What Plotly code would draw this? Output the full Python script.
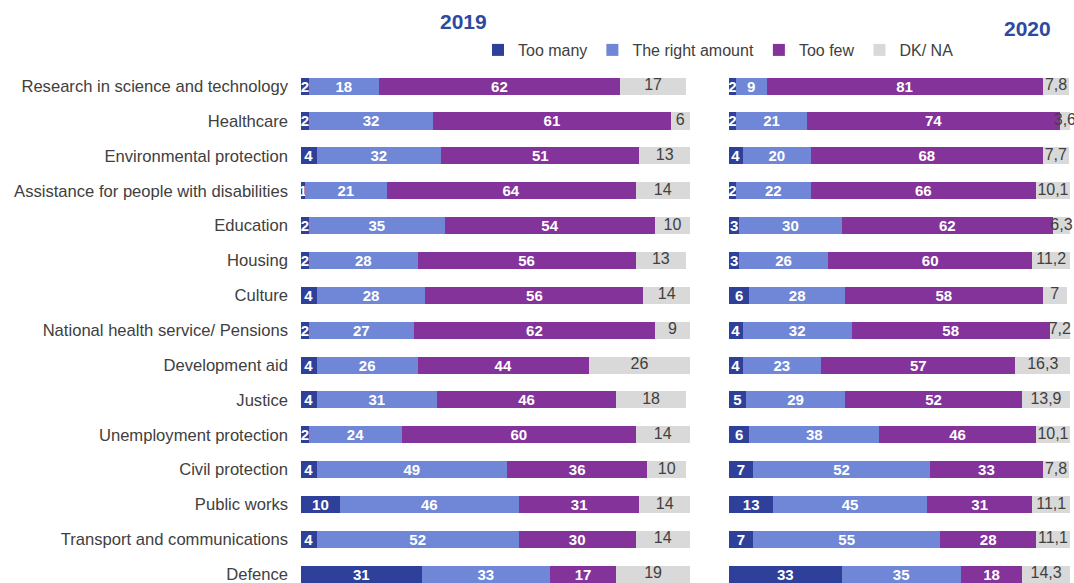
import plotly.graph_objects as go

categories = [
    "Research in science and technology", "Healthcare", "Environmental protection",
    "Assistance for people with disabilities", "Education", "Housing", "Culture",
    "National health service/ Pensions", "Development aid", "Justice",
    "Unemployment protection", "Civil protection", "Public works",
    "Transport and communications", "Defence",
]
series_names = ["Too many", "The right amount", "Too few", "DK/ NA"]

too_many_2019 = [2, 2, 4, 1, 2, 2, 4, 2, 4, 4, 2, 4, 10, 4, 31]
right_2019 = [18, 32, 32, 21, 35, 28, 28, 27, 26, 31, 24, 49, 46, 52, 33]
too_few_2019 = [62, 61, 51, 64, 54, 56, 56, 62, 44, 46, 60, 36, 31, 30, 17]
dkna_2019 = [17, 6, 13, 14, 10, 13, 14, 9, 26, 18, 14, 10, 14, 14, 19]

too_many_2020 = [2, 2, 4, 2, 3, 3, 6, 4, 4, 5, 6, 7, 13, 7, 33]
right_2020 = [9, 21, 20, 22, 30, 26, 28, 32, 23, 29, 38, 52, 45, 55, 35]
too_few_2020 = [81, 74, 68, 66, 62, 60, 58, 58, 57, 52, 46, 33, 31, 28, 18]
dkna_2020 = [7.8, 3.6, 7.7, 10.1, 6.3, 11.2, 7, 7.2, 16.3, 13.9, 10.1, 7.8, 11.1, 11.1, 14.3]

colors = ["#2F409B", "#6F87D6", "#833399", "#D9D9D9"]
FONT = "Liberation Sans, Arial, sans-serif"
AXIS_MAX = 100


def fmt(v):
    return ("%g" % v).replace(".", ",")


fig = go.Figure()
data_2019 = [too_many_2019, right_2019, too_few_2019, dkna_2019]
data_2020 = [too_many_2020, right_2020, too_few_2020, dkna_2020]

for data, xax, show in [(data_2019, "x", True), (data_2020, "x2", False)]:
    for i, name in enumerate(series_names):
        colored = i < 3
        fig.add_trace(go.Bar(
            y=categories, x=data[i], orientation="h", name=name,
            marker=dict(color=colors[i], line=dict(width=0)),
            text=[fmt(v) for v in data[i]] if colored else None,
            textposition="inside" if colored else "none",
            insidetextanchor="middle", textangle=0,
            textfont=dict(color="white", size=15, family=FONT, weight="bold"),
            width=0.49, xaxis=xax, yaxis="y", cliponaxis=False,
            showlegend=show, legendgroup=name, hoverinfo="x+y+name",
        ))
    # labels of the DK/NA segments, centred on the visible part of the segment
    starts = [a + b + c for a, b, c in zip(data[0], data[1], data[2])]
    centers = [(s + min(s + d, AXIS_MAX)) / 2 for s, d in zip(starts, data[3])]
    fig.add_trace(go.Scatter(
        y=categories, x=centers, mode="text", text=[fmt(v) for v in data[3]],
        textposition="middle center",
        textfont=dict(color="#404040", size=16, family=FONT),
        xaxis=xax, yaxis="y", cliponaxis=False, showlegend=False, hoverinfo="skip",
    ))

fig.update_layout(
    barmode="stack",
    width=1074, height=583,
    margin=dict(l=0, r=0, t=0, b=0),
    paper_bgcolor="white", plot_bgcolor="white",
    font=dict(family=FONT, size=15, color="#404040"),
    uniformtext=dict(minsize=15, mode="show"),
    xaxis=dict(domain=[301 / 1074, 690 / 1074], range=[0, AXIS_MAX], visible=False),
    xaxis2=dict(domain=[729 / 1074, 1070 / 1074], range=[0, AXIS_MAX], visible=False, anchor="y"),
    yaxis=dict(
        type="category", categoryorder="array", categoryarray=categories,
        range=[14.25, -2.47], showgrid=False, zeroline=False, showline=False,
        ticks="", ticklabelstandoff=12, tickfont=dict(size=16.6, color="#404040"),
    ),
    legend=dict(
        orientation="h", x=478 / 1074, y=1 - 50 / 583, xanchor="left", yanchor="middle",
        font=dict(size=16, color="#404040"), itemwidth=30, traceorder="normal",
        bgcolor="rgba(0,0,0,0)", itemclick=False,
    ),
    annotations=[
        dict(text="<b>2019</b>", x=463 / 1074, y=1 - 22 / 583, xref="paper", yref="paper",
             xanchor="center", yanchor="middle",
             showarrow=False, font=dict(size=21, color="#2E4A9E")),
        dict(text="<b>2020</b>", x=1027 / 1074, y=1 - 29 / 583, xref="paper", yref="paper",
             xanchor="center", yanchor="middle",
             showarrow=False, font=dict(size=21, color="#2E4A9E")),
    ],
)

fig.write_html(
    "out.html",
    config={"displayModeBar": False},
    post_script="document.body.style.margin='0';document.body.style.overflow='hidden';",
)
